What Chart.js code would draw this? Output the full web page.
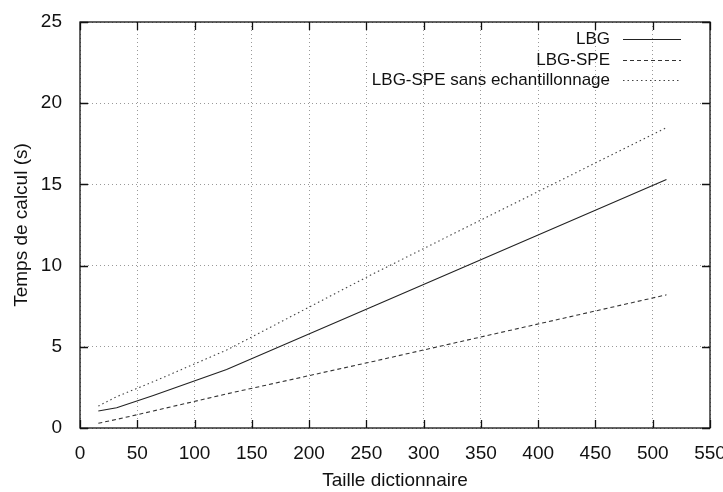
<!DOCTYPE html>
<html>
<head>
<meta charset="utf-8">
<script src="https://cdn.jsdelivr.net/npm/chart.js@4/dist/chart.umd.min.js"></script>
<style>
html,body{margin:0;padding:0;background:#fff;}
#wrap{width:723px;height:492px;position:relative;}
</style>
</head>
<body>
<div id="wrap"><canvas id="c" width="723" height="492"></canvas></div>
<script>
// Data
const dictSizes = [16, 32, 64, 128, 256, 512];
const lbg = [1.05, 1.25, 2.0, 3.6, 7.5, 15.3];
const lbgSpe = [0.29, 0.53, 1.05, 2.1, 4.1, 8.2];
const lbgSpeSans = [1.35, 1.93, 2.85, 4.8, 9.5, 18.5];
const seriesNames = ['LBG', 'LBG-SPE', 'LBG-SPE sans echantillonnage'];
const xTitle = 'Taille dictionnaire';
const yTitle = 'Temps de calcul (s)';

const FONT = '"Liberation Sans", Arial, Helvetica, sans-serif';
const FS = 19;
const LFS = 17;
const toXY = arr => dictSizes.map((x, i) => ({x: x, y: arr[i]}));

const styles = [
  {color: '#222', dash: []},
  {color: '#333', dash: [4, 3]},
  {color: '#444', dash: [1.5, 3]}
];

const frameTicks = {
  id: 'frameTicks',
  afterDatasetsDraw(chart) {
    const {ctx, chartArea: a, scales: {x, y}} = chart;
    ctx.save();
    ctx.strokeStyle = '#111';
    ctx.lineWidth = 1.3;
    ctx.setLineDash([]);
    ctx.strokeRect(a.left, a.top, a.right - a.left, a.bottom - a.top);
    const L = 8;
    ctx.beginPath();
    x.ticks.forEach(t => {
      const px = Math.round(x.getPixelForValue(t.value)) + 0.5;
      ctx.moveTo(px, a.bottom); ctx.lineTo(px, a.bottom - L);
      ctx.moveTo(px, a.top); ctx.lineTo(px, a.top + L);
    });
    y.ticks.forEach(t => {
      const py = Math.round(y.getPixelForValue(t.value)) + 0.5;
      ctx.moveTo(a.left, py); ctx.lineTo(a.left + L, py);
      ctx.moveTo(a.right, py); ctx.lineTo(a.right - L, py);
    });
    ctx.stroke();
    ctx.restore();
  },
  afterDraw(chart) {
    const {ctx} = chart;
    ctx.save();
    ctx.font = LFS + 'px ' + FONT;
    ctx.fillStyle = '#111';
    ctx.textAlign = 'right';
    ctx.textBaseline = 'middle';
    const ys = [39, 60, 80];
    chart.data.datasets.forEach((ds, i) => {
      ctx.fillText(ds.label, 610, ys[i]);
      ctx.beginPath();
      ctx.strokeStyle = ds.borderColor;
      ctx.lineWidth = 1;
      ctx.setLineDash(ds.borderDash || []);
      ctx.moveTo(623, ys[i] + 0.5);
      ctx.lineTo(681, ys[i] + 0.5);
      ctx.stroke();
    });
    ctx.restore();
  }
};

new Chart(document.getElementById('c'), {
  type: 'line',
  data: {
    datasets: [lbg, lbgSpe, lbgSpeSans].map((arr, i) => ({
      label: seriesNames[i],
      data: toXY(arr),
      borderColor: styles[i].color,
      borderDash: styles[i].dash,
      borderWidth: 1.1,
      pointRadius: 0,
      tension: 0,
      fill: false
    }))
  },
  options: {
    responsive: false,
    animation: false,
    layout: {padding: {left: 0, right: 13, top: 22, bottom: 0}},
    plugins: {legend: {display: false}, tooltip: {enabled: false}},
    scales: {
      x: {
        type: 'linear', min: 0, max: 550,
        ticks: {stepSize: 50, font: {family: FONT, size: FS}, color: '#111', padding: 14, maxRotation: 0, autoSkip: false},
        grid: {color: '#999', lineWidth: 1, drawTicks: false},
        border: {display: false, dash: [1, 3]},
        title: {display: true, text: xTitle, font: {family: FONT, size: FS}, color: '#111', padding: {top: 2, bottom: 0}},
        afterFit(s) { s.height = 64; s.paddingLeft = 0; s.paddingRight = 0; }
      },
      y: {
        type: 'linear', min: 0, max: 25,
        ticks: {stepSize: 5, font: {family: FONT, size: FS}, color: '#111', padding: 18},
        grid: {color: '#999', lineWidth: 1, drawTicks: false},
        border: {display: false, dash: [1, 3]},
        title: {display: true, text: yTitle, font: {family: FONT, size: FS}, color: '#111', padding: {top: 10, bottom: 0}},
        afterFit(s) { s.width = 80; s.paddingTop = 0; s.paddingBottom = 0; }
      }
    }
  },
  plugins: [frameTicks]
});
</script>
</body>
</html>
